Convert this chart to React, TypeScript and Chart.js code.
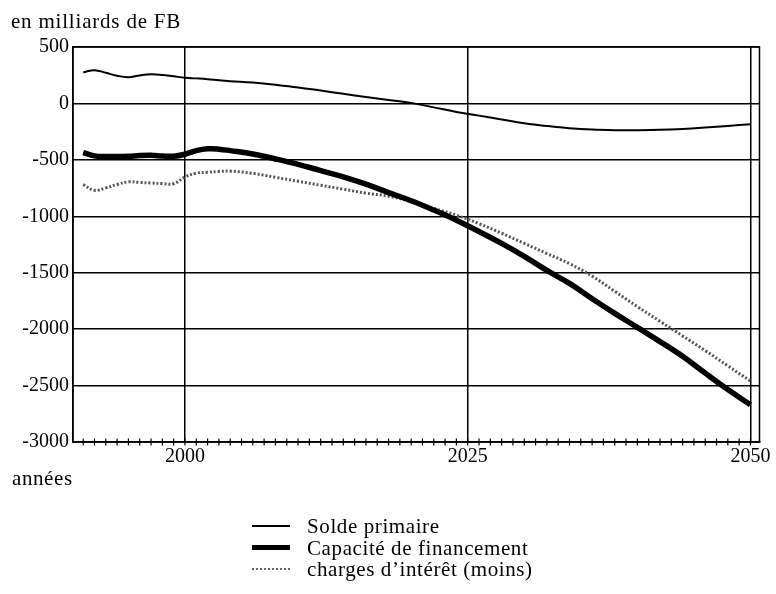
import React, { useEffect, useRef } from 'react';
import { Chart, registerables } from 'chart.js';

Chart.register(...registerables);

const years = [1991, 1992, 1993, 1994, 1995, 1996, 1997, 1998, 1999, 2000, 2001, 2002, 2003, 2004, 2006, 2008, 2010, 2012, 2014, 2016, 2018, 2020, 2022, 2024, 2026, 2028, 2030, 2032, 2034, 2036, 2038, 2040, 2042, 2044, 2046, 2048, 2050];
const soldePrimaire = [275, 295, 272, 245, 232, 248, 258, 252, 240, 228, 222, 215, 205, 197, 185, 165, 142, 114, 85, 57, 30, 5, -35, -75, -108, -142, -175, -200, -220, -232, -237, -237, -234, -226, -214, -200, -184];
const capaciteFinancement = [-435, -465, -470, -470, -468, -462, -460, -465, -468, -450, -418, -402, -405, -418, -448, -492, -540, -595, -650, -715, -790, -862, -945, -1035, -1135, -1240, -1355, -1480, -1595, -1730, -1860, -1985, -2110, -2240, -2390, -2535, -2670];
const chargesInteret = [-718, -770, -748, -718, -695, -700, -705, -710, -712, -652, -618, -610, -603, -600, -620, -655, -690, -725, -760, -795, -822, -870, -930, -990, -1065, -1150, -1240, -1330, -1420, -1530, -1665, -1800, -1930, -2060, -2190, -2325, -2460];

const labeledYears = [2000, 2025, 2050];
const minorTickYears = [1991, 1992, 1993, 1994, 1995, 1996, 1997, 1998, 1999, 2000, 2001, 2002, 2003, 2004, 2005, 2006, 2007, 2008, 2009, 2010, 2011, 2012, 2013, 2014, 2015, 2016, 2017, 2018, 2019, 2020, 2021, 2022, 2023, 2024, 2025, 2026, 2027, 2028, 2029, 2030, 2031, 2032, 2033, 2034, 2035, 2036, 2037, 2038, 2039, 2040, 2041, 2042, 2043, 2044, 2045, 2046, 2047, 2048, 2049, 2050];
const seriesLabels = ['Solde primaire', 'Capacité de financement', 'charges d’intérêt (moins)'];
const yTitle = 'en milliards de FB';
const xTitle = 'années';

const FONT = '"Liberation Serif", "Times New Roman", serif';

const toPoints = (vals: number[]) => years.map((y, i) => ({ x: y, y: vals[i] }));

const framePlugin = {
  id: 'frame',
  afterDatasetsDraw(chart: any) {
    const { ctx, chartArea: a, scales } = chart;
    ctx.save();
    ctx.strokeStyle = '#000';
    ctx.lineWidth = 1.5;
    ctx.strokeRect(a.left, a.top, a.right - a.left, a.bottom - a.top);
    ctx.lineWidth = 1.2;
    scales.x.ticks.forEach((t: any) => {
      const px = scales.x.getPixelForValue(t.value);
      ctx.beginPath();
      ctx.moveTo(px, a.bottom - 3.5);
      ctx.lineTo(px, a.bottom + 3.5);
      ctx.stroke();
    });
    ctx.restore();
  },
};

export default function App() {
  const canvasRef = useRef<HTMLCanvasElement | null>(null);

  useEffect(() => {
    const canvas = canvasRef.current;
    if (!canvas) return;
    const chart = new Chart(canvas, {
      type: 'line',
      data: {
        datasets: [
          {
            label: seriesLabels[0],
            data: toPoints(soldePrimaire),
            borderColor: '#000',
            borderWidth: 2,
            pointRadius: 0,
            tension: 0.4,
            fill: false,
          },
          {
            label: seriesLabels[1],
            data: toPoints(capaciteFinancement),
            borderColor: '#000',
            borderWidth: 5.5,
            pointRadius: 0,
            tension: 0.4,
            fill: false,
          },
          {
            label: seriesLabels[2],
            data: toPoints(chargesInteret),
            borderColor: '#555',
            borderWidth: 3,
            borderDash: [2, 2],
            pointRadius: 0,
            tension: 0.4,
            fill: false,
          },
        ],
      },
      options: {
        animation: false,
        responsive: false,
        devicePixelRatio: 1,
        layout: { padding: { left: 0, top: 47, right: 16.5, bottom: 100 } },
        plugins: {
          legend: { display: false },
          tooltip: { enabled: false },
          title: { display: false },
        },
        scales: {
          x: {
            type: 'linear',
            position: 'bottom',
            min: 1990.1,
            max: 2050.8,
            afterBuildTicks: (scale: any) => {
              scale.ticks = minorTickYears.map((v) => ({ value: v }));
            },
            afterFit: (scale: any) => {
              scale.height = 52;
            },
            grid: {
              color: (c: any) => (c.tick && labeledYears.includes(c.tick.value) ? '#000' : 'rgba(0,0,0,0)'),
              lineWidth: 1.5,
              drawTicks: false,
            },
            border: { display: true, color: '#000', width: 1.5 },
            ticks: {
              autoSkip: false,
              maxRotation: 0,
              minRotation: 0,
              padding: 3,
              color: '#000',
              font: { family: FONT, size: 20 },
              callback: (v: any) => (labeledYears.includes(Number(v)) ? String(v) : ''),
            },
          },
          y: {
            type: 'linear',
            min: -3000,
            max: 500,
            afterFit: (scale: any) => {
              scale.width = 73;
            },
            grid: { color: '#000', lineWidth: 1.5, drawTicks: false },
            border: { display: true, color: '#000', width: 1.5 },
            ticks: {
              stepSize: 500,
              padding: 4,
              color: '#000',
              font: { family: FONT, size: 20 },
              callback: (v: any) => String(v),
            },
          },
        },
      },
      plugins: [framePlugin],
    });
    return () => chart.destroy();
  }, []);

  const textStyle: React.CSSProperties = {
    position: 'absolute',
    fontFamily: FONT,
    fontSize: 21,
    lineHeight: '20px',
    letterSpacing: '0.6px',
    color: '#000',
    whiteSpace: 'nowrap',
  };

  return (
    <div style={{ position: 'fixed', left: 0, top: 0, width: 776, height: 594, background: '#fff', overflow: 'hidden' }}>
      <canvas ref={canvasRef} width={776} height={594} style={{ position: 'absolute', left: 0, top: 0, width: 776, height: 594 }} />
      <div style={{ ...textStyle, left: 11, top: 11, letterSpacing: '0.8px' }}>{yTitle}</div>
      <div style={{ ...textStyle, left: 12, top: 468 }}>{xTitle}</div>
      <div style={{ position: 'absolute', left: 252, top: 525, width: 38, borderTop: '2px solid #000' }} />
      <div style={{ position: 'absolute', left: 252, top: 545, width: 38, borderTop: '5px solid #000' }} />
      <div style={{ position: 'absolute', left: 252, top: 568, width: 38, borderTop: '2px dotted #666' }} />
      <div style={{ ...textStyle, left: 307, top: 516 }}>{seriesLabels[0]}</div>
      <div style={{ ...textStyle, left: 307, top: 537.5 }}>{seriesLabels[1]}</div>
      <div style={{ ...textStyle, left: 307, top: 559 }}>{seriesLabels[2]}</div>
    </div>
  );
}
